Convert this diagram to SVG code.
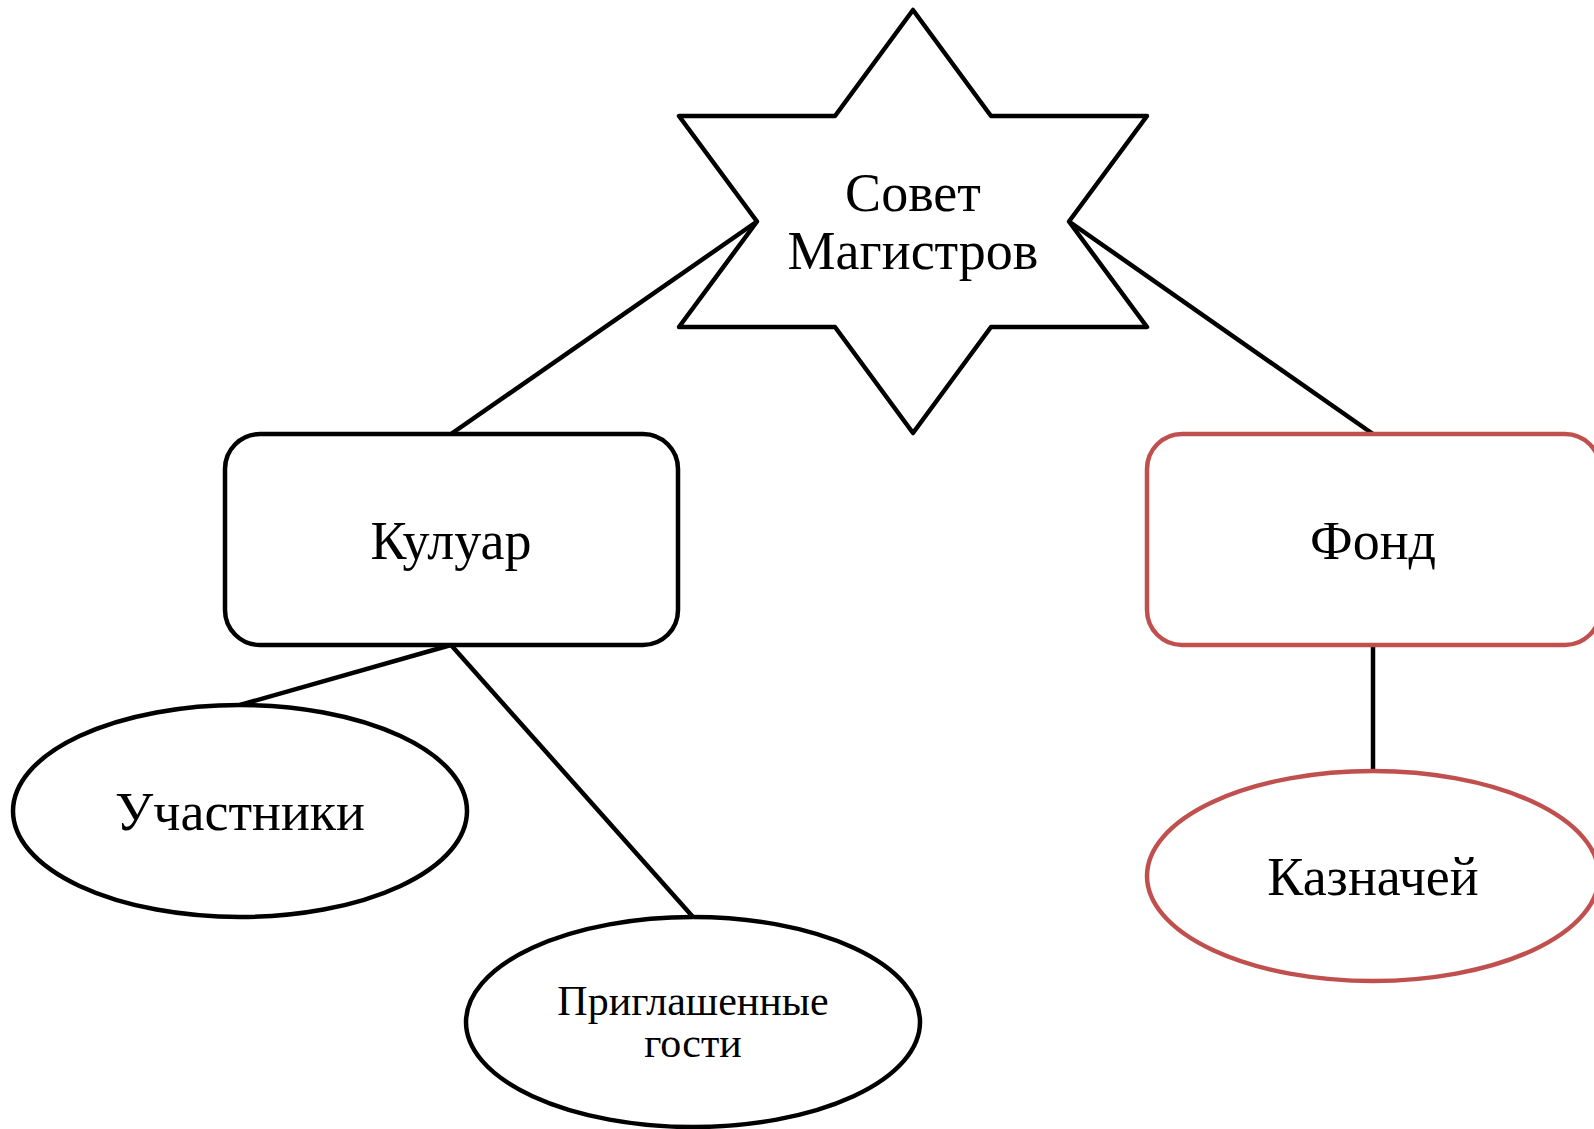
<svg xmlns="http://www.w3.org/2000/svg" width="1594" height="1129" viewBox="0 0 1594 1129">
<style>
.blk{fill:#fff;stroke:#000;stroke-width:4.5;stroke-linejoin:round}
.red{fill:#fff;stroke:#C0504D;stroke-width:4.5}
.con{stroke:#000;stroke-width:4.5;fill:none}
text{font-family:"Liberation Serif","DejaVu Serif",serif;fill:#000;text-anchor:middle}
.big{font-size:54px}
.sm{font-size:42px}
</style>
<rect width="1594" height="1129" fill="#fff"/>
<g id="connectors">
<line class="con" x1="757" y1="221.5" x2="451" y2="434"/>
<line class="con" x1="1069" y1="221.5" x2="1373" y2="434"/>
<line class="con" x1="451" y1="645" x2="240" y2="705"/>
<line class="con" x1="451" y1="645" x2="693" y2="917"/>
<line class="con" x1="1373" y1="645" x2="1373" y2="771"/>
</g>
<g id="sovet">
<polygon class="blk" points="913,10 991,116 1147,116 1069,221.5 1147,327 991,327 913,433 835,327 679,327 757,221.5 679,116 835,116"/>
<text class="big" x="913" y="211">Совет</text>
<text class="big" x="913" y="269">Магистров</text>
</g>
<g id="kuluar">
<rect class="blk" x="225" y="434" width="453" height="211" rx="35"/>
<text class="big" x="451" y="559">Кулуар</text>
</g>
<g id="fond">
<rect class="red" x="1147" y="434" width="453" height="211" rx="35"/>
<text class="big" x="1373" y="559">Фонд</text>
</g>
<g id="uchastniki">
<ellipse class="blk" cx="240" cy="811" rx="227" ry="106"/>
<text class="big" x="240" y="830">Участники</text>
</g>
<g id="gosti">
<ellipse class="blk" cx="693" cy="1022" rx="227" ry="105"/>
<text class="sm" x="693" y="1015">Приглашенные</text>
<text class="sm" x="693" y="1057">гости</text>
</g>
<g id="kaznachey">
<ellipse class="red" cx="1373" cy="876" rx="226" ry="105"/>
<text class="big" x="1373" y="895">Казначей</text>
</g>
</svg>
